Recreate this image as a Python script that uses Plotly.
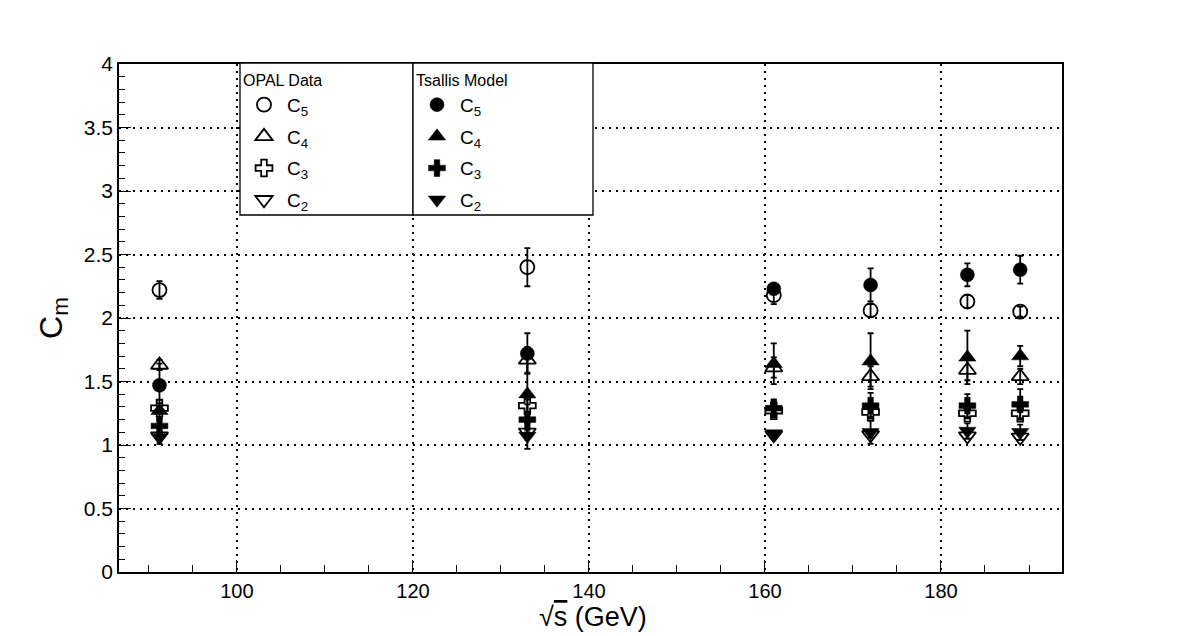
import plotly.graph_objects as go

energies = [91.2, 133, 161, 172, 183, 189]

opal_c5 = [2.22, 2.40, 2.18, 2.06, 2.13, 2.05]
opal_c5_err = [0.07, 0.15, 0.07, 0.05, 0.05, 0.04]
opal_c4 = [1.63, 1.67, 1.61, 1.54, 1.59, 1.54]
opal_c4_err = [0.04, 0.10, 0.08, 0.08, 0.08, 0.06]
opal_c3 = [1.29, 1.31, 1.27, 1.26, 1.25, 1.25]
opal_c3_err = [0.02, 0.05, 0.04, 0.04, 0.04, 0.04]
opal_c2 = [1.07, 1.10, 1.08, 1.08, 1.07, 1.06]
opal_c2_err = [0.01, 0.02, 0.02, 0.02, 0.02, 0.02]

tsallis_c5 = [1.47, 1.72, 2.23, 2.26, 2.34, 2.38]
tsallis_c5_err = [0.17, 0.16, 0.03, 0.13, 0.09, 0.11]
tsallis_c4 = [1.27, 1.40, 1.64, 1.66, 1.69, 1.70]
tsallis_c4_err = [0.06, 0.30, 0.16, 0.22, 0.21, 0.08]
tsallis_c3 = [1.15, 1.20, 1.29, 1.31, 1.31, 1.32]
tsallis_c3_err = [0.05, 0.12, 0.07, 0.10, 0.09, 0.12]
tsallis_c2 = [1.06, 1.07, 1.09, 1.10, 1.11, 1.10]
tsallis_c2_err = [0.05, 0.10, 0.01, 0.09, 0.06, 0.06]

labels = ["C<sub>5</sub>", "C<sub>4</sub>", "C<sub>3</sub>", "C<sub>2</sub>"]

FONT = "Liberation Sans"

fig = go.Figure()

opal = [(opal_c5, opal_c5_err, "circle-open", 14),
        (opal_c4, opal_c4_err, "triangle-up-open", 15),
        (opal_c3, opal_c3_err, "cross-open", 14),
        (opal_c2, opal_c2_err, "triangle-down-open", 15)]
tsal = [(tsallis_c5, tsallis_c5_err, "circle", 14),
        (tsallis_c4, tsallis_c4_err, "triangle-up", 15),
        (tsallis_c3, tsallis_c3_err, "cross", 14),
        (tsallis_c2, tsallis_c2_err, "triangle-down", 15)]

for i, ((vals, errs, sym, sz), lab) in enumerate(zip(opal, labels)):
    fig.add_trace(go.Scatter(
        x=energies, y=vals, mode="markers", name=lab, legend="legend",
        legendgroup="o%d" % i,
        marker=dict(symbol=sym, size=sz, color="black", line=dict(color="black", width=1.8)),
        error_y=dict(type="data", array=errs, color="black", thickness=1.8, width=3),
    ))

for i, ((vals, errs, sym, sz), lab) in enumerate(zip(tsal, labels)):
    fig.add_trace(go.Scatter(
        x=energies, y=vals, mode="markers", name=lab, legend="legend2",
        legendgroup="t%d" % i,
        marker=dict(symbol=sym, size=sz, color="black", line=dict(color="black", width=0.5)),
        error_y=dict(type="data", array=errs, color="black", thickness=1.8, width=3),
    ))

# legend frames (two adjoining boxes)
def px_x(p):
    return (p - 119) / 943.0

def px_y(p):
    return (572 - p) / 508.0

for x0, x1 in [(240, 413), (413, 593)]:
    fig.add_shape(type="rect", xref="paper", yref="paper",
                  x0=px_x(x0), x1=px_x(x1), y0=px_y(215), y1=px_y(63),
                  line=dict(color="black", width=1.3), fillcolor="white", layer="above")

legend_common = dict(
    xanchor="left", yanchor="top", y=px_y(65),
    borderwidth=0, bgcolor="rgba(0,0,0,0)",
    font=dict(size=19, family=FONT), tracegroupgap=4, itemwidth=36,
)

fig.update_layout(
    width=1182, height=636,
    margin=dict(l=119, r=120, t=64, b=64),
    paper_bgcolor="white", plot_bgcolor="white",
    font=dict(family=FONT, color="black", size=18),
    showlegend=True,
    legend=dict(x=px_x(241), title=dict(text="OPAL Data", font=dict(size=16, family=FONT)),
                **legend_common),
    legend2=dict(x=px_x(414), title=dict(text="Tsallis Model", font=dict(size=16, family=FONT)),
                 **legend_common),
    annotations=[dict(
        text="√<span style='text-decoration:overline'>s</span> (GeV)",
        xref="paper", yref="paper", x=px_x(593), y=px_y(617),
        xanchor="center", yanchor="middle", showarrow=False,
        font=dict(size=27, family=FONT, color="black"),
    )],
)

fig.update_xaxes(
    range=[86.6, 193.75], tickmode="array",
    tickvals=[100, 120, 140, 160, 180], ticktext=["100", "120", "140", "160", "180"],
    showline=True, linecolor="black", linewidth=1.5, mirror=True,
    ticks="inside", ticklen=12, tickwidth=1, tickcolor="black",
    minor=dict(dtick=5, tick0=0, ticks="inside", ticklen=7, tickcolor="black", showgrid=False),
    showgrid=True, gridcolor="black", griddash="2px,5px", gridwidth=2,
    zeroline=False, tickfont=dict(size=20, family=FONT),
)
fig.update_yaxes(
    range=[0, 4], tickmode="array",
    tickvals=[0, 0.5, 1, 1.5, 2, 2.5, 3, 3.5, 4],
    ticktext=["0", "0.5", "1", "1.5", "2", "2.5", "3", "3.5", "4"],
    showline=True, linecolor="black", linewidth=1.5, mirror=True,
    ticks="inside", ticklen=12, tickwidth=1, tickcolor="black",
    minor=dict(dtick=0.1, tick0=0, ticks="inside", ticklen=6, tickcolor="black", showgrid=False),
    showgrid=True, gridcolor="black", griddash="2px,5px", gridwidth=2,
    zeroline=False, tickfont=dict(size=21, family=FONT),
    title=dict(text="C<sub>m</sub>", font=dict(size=32, family=FONT), standoff=12),
)

fig.write_html("out.html")
